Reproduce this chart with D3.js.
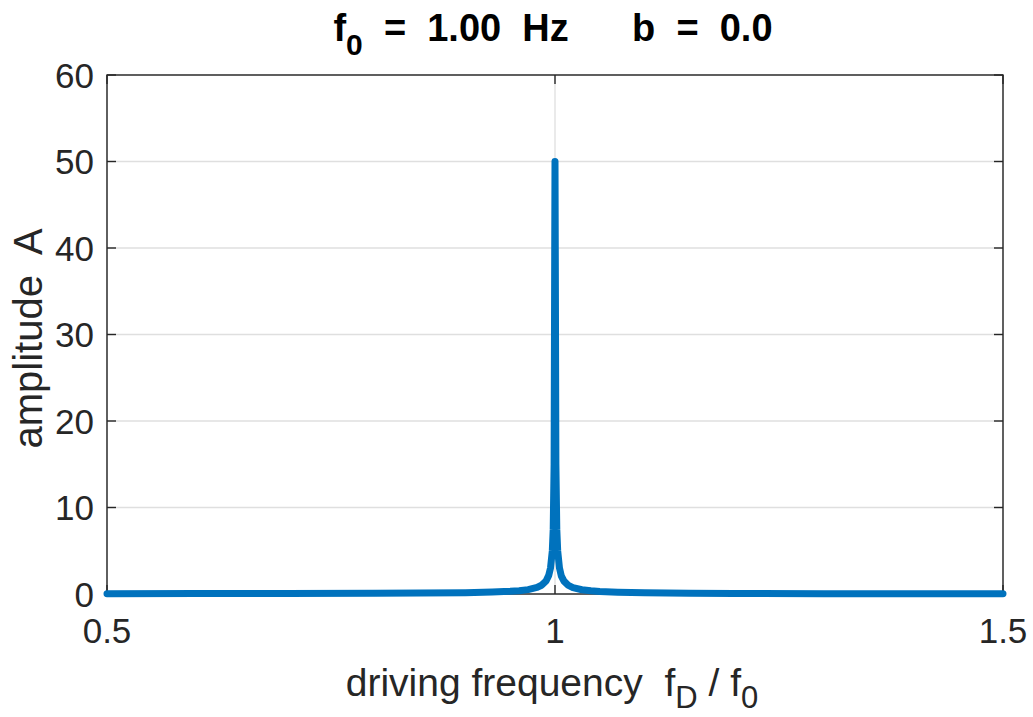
<!DOCTYPE html>
<html>
<head>
<meta charset="utf-8">
<script src="https://cdn.jsdelivr.net/npm/d3@7"></script>
<style>
  body { margin: 0; background: #fff; }
  text { font-family: "Liberation Sans", Arial, Helvetica, sans-serif; fill: #262626; }
</style>
</head>
<body>
<svg id="chart" width="1033" height="717"></svg>
<script>
// ratio f_D / f_0 and amplitude
let ratio = [0.5, 0.6, 0.7, 0.8, 0.85, 0.9, 0.93, 0.95, 0.96, 0.97, 0.98, 0.985, 0.99, 0.993, 0.995, 0.997, 0.998, 0.999, 0.9996,
	1.0,
	1.0004, 1.001, 1.002, 1.003, 1.005, 1.007, 1.01, 1.015, 1.02, 1.03, 1.04, 1.05, 1.07, 1.1, 1.15, 1.2, 1.3, 1.4, 1.5];
let amplitude = [0.04, 0.047, 0.059, 0.083, 0.108, 0.158, 0.222, 0.308, 0.382, 0.508, 0.758, 1.01, 1.51, 2.15, 3.01, 5.0, 7.5, 15, 37,
	50,
	37, 15, 7.5, 5.0, 3.0, 2.1, 1.49, 0.99, 0.74, 0.49, 0.37, 0.29, 0.21, 0.143, 0.093, 0.068, 0.043, 0.031, 0.024];
let xTicks = [0.5, 1, 1.5];
let yTicks = [0, 10, 20, 30, 40, 50, 60];

let svg = d3.select("#chart");
let margin = {top: 75, right: 30, bottom: 123, left: 107};
let width = 1033, height = 717;
let x = d3.scaleLinear().domain([0.5, 1.5]).range([margin.left, width - margin.right]);
let y = d3.scaleLinear().domain([0, 60]).range([height - margin.bottom, margin.top]);
let x0 = margin.left, x1 = width - margin.right, y0 = height - margin.bottom, y1 = margin.top;

svg.append("rect").attr("width", width).attr("height", height).attr("fill", "#fff");

// grid
let grid = svg.append("g").attr("stroke", "#dfdfdf").attr("stroke-width", 1.3);
grid.selectAll(".gx").data(xTicks).join("line")
	.attr("x1", d => x(d)).attr("x2", d => x(d)).attr("y1", y0).attr("y2", y1);
grid.selectAll(".gy").data(yTicks).join("line")
	.attr("y1", d => y(d)).attr("y2", d => y(d)).attr("x1", x0).attr("x2", x1);

// box + inward ticks
let ax = svg.append("g").attr("stroke", "#262626").attr("stroke-width", 1.4);
ax.append("rect").attr("x", x0).attr("y", y1).attr("width", x1 - x0).attr("height", y0 - y1).attr("fill", "none");
ax.selectAll(".tb").data(xTicks).join("line")
	.attr("x1", d => x(d)).attr("x2", d => x(d)).attr("y1", y0).attr("y2", y0 - 9);
ax.selectAll(".tt").data(xTicks).join("line")
	.attr("x1", d => x(d)).attr("x2", d => x(d)).attr("y1", y1).attr("y2", y1 + 9);
ax.selectAll(".tl").data(yTicks).join("line")
	.attr("y1", d => y(d)).attr("y2", d => y(d)).attr("x1", x0).attr("x2", x0 + 9);
ax.selectAll(".tr").data(yTicks).join("line")
	.attr("y1", d => y(d)).attr("y2", d => y(d)).attr("x1", x1).attr("x2", x1 - 9);

// tick labels
svg.append("g").selectAll("text").data(yTicks).join("text")
	.attr("x", x0 - 13).attr("y", d => y(d)).attr("dy", "0.36em")
	.attr("text-anchor", "end").attr("font-size", 35)
	.text(d => d);
svg.append("g").selectAll("text").data(xTicks).join("text")
	.attr("x", d => x(d)).attr("y", y0 + 49)
	.attr("text-anchor", "middle").attr("font-size", 35)
	.text(d => d);

// curve
let pts = ratio.map((r, i) => [r, amplitude[i]]);
svg.append("path")
	.datum(pts)
	.attr("fill", "none")
	.attr("stroke", "#0072BD")
	.attr("stroke-width", 7)
	.attr("stroke-linejoin", "round")
	.attr("stroke-linecap", "round")
	.attr("d", d3.line().x(d => x(d[0])).y(d => y(d[1])));

// labels
let xl = svg.append("text")
	.attr("x", (x0 + x1) / 2 - 3).attr("y", 696)
	.attr("text-anchor", "middle").attr("font-size", 39)
	.attr("xml:space", "preserve");
xl.append("tspan").text("driving frequency  f");
xl.append("tspan").attr("font-size", 31).attr("dy", 12).text("D");
xl.append("tspan").attr("dy", -12).text(" / f");
xl.append("tspan").attr("font-size", 31).attr("dy", 12).text("0");

svg.append("text")
	.attr("transform", `translate(42,${(y0 + y1) / 2 + 4}) rotate(-90)`)
	.attr("text-anchor", "middle").attr("font-size", 40)
	.attr("xml:space", "preserve")
	.text("amplitude  A");

let tl = svg.append("text")
	.attr("x", (x0 + x1) / 2 - 2).attr("y", 41)
	.attr("text-anchor", "middle").attr("font-size", 38).attr("font-weight", "bold")
	.attr("xml:space", "preserve")
	.style("fill", "#000");
tl.append("tspan").text("f");
tl.append("tspan").attr("font-size", 30).attr("dy", 14).text("0");
tl.append("tspan").attr("dy", -14).text("  =  1.00  Hz      b  =  0.0");
</script>
</body>
</html>
